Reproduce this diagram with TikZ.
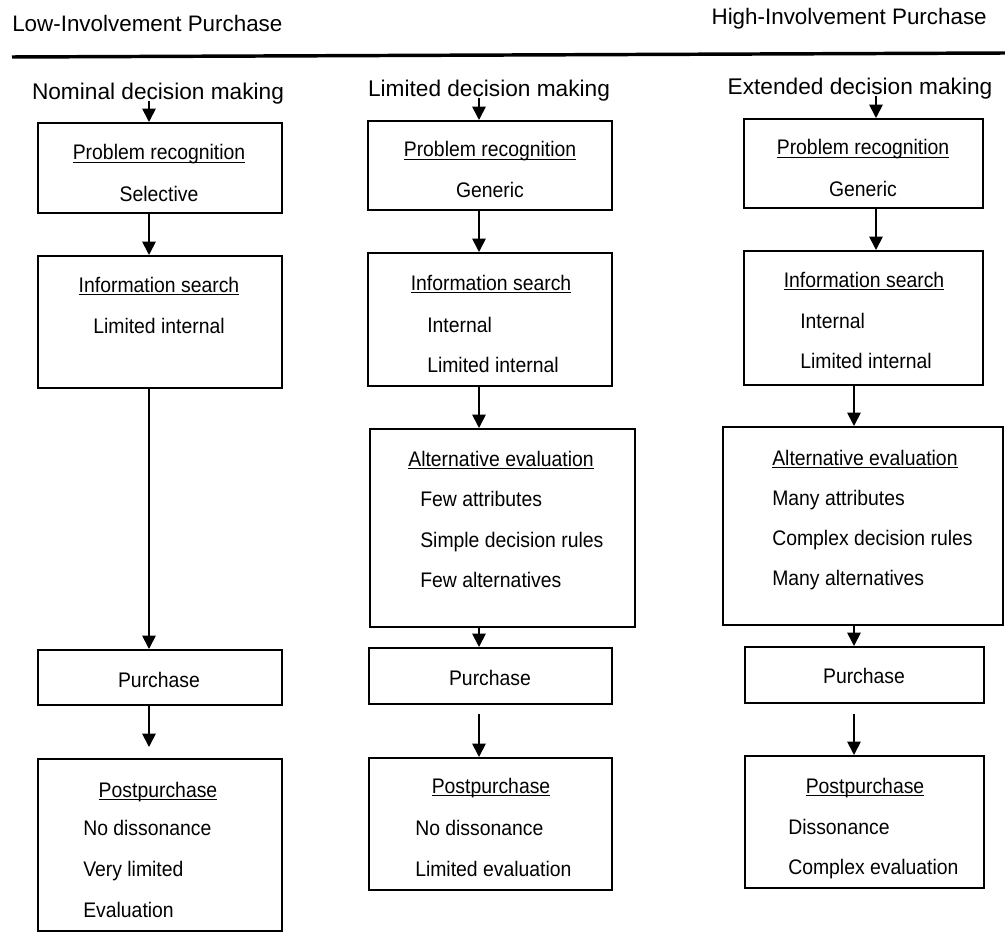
\documentclass[tikz,border=0pt]{standalone}
\usepackage{fontspec}
\setmainfont{Liberation Sans}
\newfontfamily\boxfont{Liberation Sans}[FakeStretch=0.92]
\usetikzlibrary{arrows.meta,fit}
% underlined step heading, rule a little below the baseline
\newcommand{\ulhead}[1]{\setbox0=\hbox{#1}\rlap{\rule[-2.6pt]{\wd0}{1pt}}\box0}
\begin{document}
\begin{tikzpicture}[x=0.75pt,y=-0.75pt,
  box/.style={draw, line width=1.5pt, inner sep=0pt},
  txt/.style={anchor=base, inner sep=0pt, font=\boxfont\fontsize{15.8}{18}\selectfont},
  item/.style={txt, anchor=base west},
  head/.style={inner sep=0pt, font=\fontsize{16.8}{20}\selectfont},
  coltitle/.style={anchor=base, inner sep=0pt, font=\fontsize{17}{20}\selectfont},
  arr/.style={-{Triangle[width=10pt,length=10pt]}, line width=1.3pt}]

\path[fill=white, use as bounding box] (0,0) rectangle (1005,934);

% involvement scale
\node[head, anchor=base west] (low) at (12,32) {Low-Involvement Purchase};
\node[head, anchor=base east] (high) at (987,25) {High-Involvement Purchase};
\draw[line width=2.6pt] (12,57) -- (1005,53);

% column titles
\node[coltitle] (t1) at (158,100) {Nominal decision making};
\node[coltitle] (t2) at (489,97) {Limited decision making};
\node[coltitle] (t3) at (860,95) {Extended decision making};

% boxes: nominal
\node[box, fit={(38,123) (282,213)}] (p1) {};
\node[box, fit={(38,256) (282,388)}] (i1) {};
\node[box, fit={(38,650) (282,705)}] (pu1) {};
\node[box, fit={(38,759) (282,931)}] (po1) {};
% boxes: limited
\node[box, fit={(368,121) (612,210)}] (p2) {};
\node[box, fit={(368,253) (612,386)}] (i2) {};
\node[box, fit={(370,429) (635,627)}] (a2) {};
\node[box, fit={(369,648) (612,704)}] (pu2) {};
\node[box, fit={(369,758) (612,890)}] (po2) {};
% boxes: extended
\node[box, fit={(744,119) (983,208)}] (p3) {};
\node[box, fit={(744,251) (983,385)}] (i3) {};
\node[box, fit={(723,427) (1003,625)}] (a3) {};
\node[box, fit={(745,647) (984,703)}] (pu3) {};
\node[box, fit={(745,756) (984,888)}] (po3) {};

% texts: nominal
\node[txt] (p1h) at (159,160) {\ulhead{Problem recognition}};
\node[txt] (p1a) at (159,202) {Selective};
\node[txt] (i1h) at (159,292) {\ulhead{Information search}};
\node[txt] (i1a) at (159,333) {Limited internal};
\node[txt] (u1) at (159,687) {Purchase};
\node[txt] (o1h) at (158,797) {\ulhead{Postpurchase}};
\node[item] (o1a) at (83,835) {No dissonance};
\node[item] (o1b) at (83,876) {Very limited};
\node[item] (o1c) at (83,917) {Evaluation};

% texts: limited
\node[txt] (p2h) at (490,157) {\ulhead{Problem recognition}};
\node[txt] (p2a) at (490,198) {Generic};
\node[txt] (i2h) at (491,290) {\ulhead{Information search}};
\node[item] (i2a) at (427,332) {Internal};
\node[item] (i2b) at (427,372) {Limited internal};
\node[txt] (a2h) at (501,466) {\ulhead{Alternative evaluation}};
\node[item] (a2a) at (420,506) {Few attributes};
\node[item] (a2b) at (420,547) {Simple decision rules};
\node[item] (a2c) at (420,587) {Few alternatives};
\node[txt] (u2) at (490,685) {Purchase};
\node[txt] (o2h) at (491,793) {\ulhead{Postpurchase}};
\node[item] (o2a) at (415,835) {No dissonance};
\node[item] (o2b) at (415,876) {Limited evaluation};

% texts: extended
\node[txt] (p3h) at (863,155) {\ulhead{Problem recognition}};
\node[txt] (p3a) at (863,197) {Generic};
\node[txt] (i3h) at (864,287) {\ulhead{Information search}};
\node[item] (i3a) at (800,328) {Internal};
\node[item] (i3b) at (800,368) {Limited internal};
\node[item] (a3h) at (772,465) {\ulhead{Alternative evaluation}};
\node[item] (a3a) at (772,505) {Many attributes};
\node[item] (a3b) at (772,545) {Complex decision rules};
\node[item] (a3c) at (772,585) {Many alternatives};
\node[txt] (u3) at (864,683) {Purchase};
\node[txt] (o3h) at (865,793) {\ulhead{Postpurchase}};
\node[item] (o3a) at (788,834) {Dissonance};
\node[item] (o3b) at (788,874) {Complex evaluation};

% arrow lines
\coordinate (k1) at (149,0);
\coordinate (k2) at (479,0);
\coordinate (k3) at (876,0);
\coordinate (k3b) at (854,0);

\draw[arr] ([yshift=-1pt]t1.base -| k1) -- (p1.north -| k1);
\draw[arr] (p1.south -| k1) -- (i1.north -| k1);
\draw[arr] (i1.south -| k1) -- (pu1.north -| k1);
\draw[arr] (pu1.south -| k1) -- ([yshift=8.25pt]po1.north -| k1);

\draw[arr] ([yshift=-1pt]t2.base -| k2) -- (p2.north -| k2);
\draw[arr] (p2.south -| k2) -- (i2.north -| k2);
\draw[arr] (i2.south -| k2) -- (a2.north -| k2);
\draw[arr] (a2.south -| k2) -- (pu2.north -| k2);
\draw[arr] ([yshift=-6.75pt]pu2.south -| k2) -- (po2.north -| k2);

\draw[arr] ([yshift=-1pt]t3.base -| k3) -- (p3.north -| k3);
\draw[arr] (p3.south -| k3) -- (i3.north -| k3);
\draw[arr] (i3.south -| k3b) -- (a3.north -| k3b);
\draw[arr] (a3.south -| k3b) -- (pu3.north -| k3b);
\draw[arr] ([yshift=-7.5pt]pu3.south -| k3b) -- (po3.north -| k3b);
\end{tikzpicture}
\end{document}
